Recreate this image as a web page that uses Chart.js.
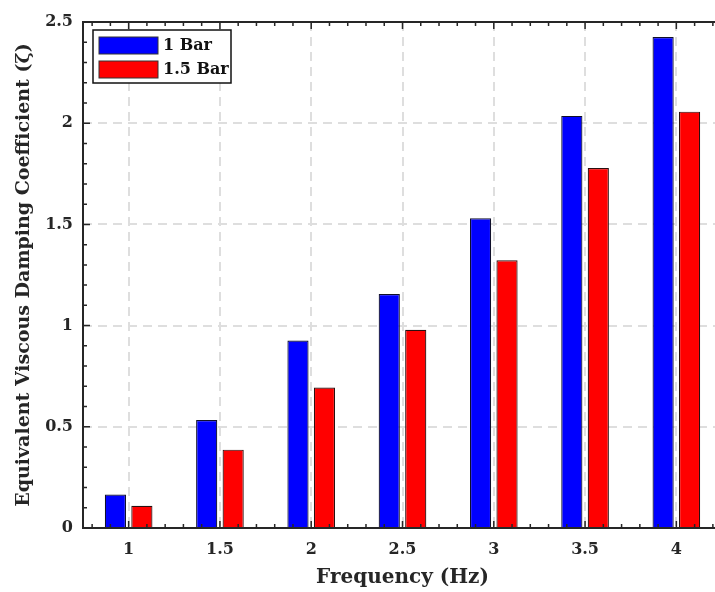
<!DOCTYPE html>
<html>
<head>
<meta charset="utf-8">
<script src="https://cdn.jsdelivr.net/npm/chart.js@4.4.1/dist/chart.umd.min.js"></script>
<style>
  html, body { margin: 0; padding: 0; background: #fff; overflow: hidden; }
  #wrap { width: 730px; height: 592px; }
</style>
</head>
<body>
<div id="wrap"><canvas id="grafico" width="730" height="592"></canvas></div>
<script>
// frecuencias (Hz) y coeficiente de amortiguamiento
const freqLabels = ['1', '1.5', '2', '2.5', '3', '3.5', '4'];
const bar1 = [0.165, 0.533, 0.926, 1.156, 1.53, 2.036, 2.426];
const bar15 = [0.11, 0.387, 0.694, 0.979, 1.323, 1.779, 2.057];
const yTicks = [0, 0.5, 1, 1.5, 2, 2.5];

const serif = "'DejaVu Serif', serif";
const axisColor = '#262626';

// marco, ticks menores y leyenda dentro del area
const marco = {
  id: 'marco',
  afterDatasetsDraw(chart) {
    const ctx = chart.ctx;
    const a = chart.chartArea;
    const xs = chart.scales.x, ys = chart.scales.y;
    ctx.save();
    ctx.strokeStyle = axisColor;
    ctx.lineWidth = 2;
    ctx.strokeRect(a.left, a.top, a.right - a.left, a.bottom - a.top);

    ctx.lineWidth = 1.5;
    // y ticks cada 0.1
    for (let v = 0; v <= 2.5001; v += 0.1) {
      const y = ys.getPixelForValue(v);
      const major = Math.abs(v * 2 - Math.round(v * 2)) < 1e-6;
      const len = major ? 7 : 4;
      ctx.beginPath();
      ctx.moveTo(a.left, y); ctx.lineTo(a.left + len, y);
      ctx.moveTo(a.right, y); ctx.lineTo(a.right - len, y);
      ctx.stroke();
    }
    // x ticks: cada categoria = 0.5 Hz, menores cada 0.1 Hz
    const step = xs.getPixelForValue(1) - xs.getPixelForValue(0);
    const x0 = xs.getPixelForValue(0);
    for (let k = -3; k <= 6 * 5 + 3; k++) {
      const x = x0 + k * step / 5;
      if (x < a.left + 1 || x > a.right - 1) continue;
      const len = (k % 5 === 0) ? 7 : 4;
      ctx.beginPath();
      ctx.moveTo(x, a.bottom); ctx.lineTo(x, a.bottom - len);
      ctx.moveTo(x, a.top); ctx.lineTo(x, a.top + len);
      ctx.stroke();
    }

    // leyenda
    const lx = a.left + 10, ly = a.top + 8, lw = 138, lh = 53;
    ctx.fillStyle = '#fff';
    ctx.fillRect(lx, ly, lw, lh);
    ctx.strokeStyle = '#111';
    ctx.lineWidth = 1.5;
    ctx.strokeRect(lx, ly, lw, lh);
    ctx.font = 'bold 16px ' + serif;
    ctx.textBaseline = 'middle';
    chart.data.datasets.forEach((ds, i) => {
      const sy = ly + 7 + i * 24;
      ctx.fillStyle = ds.backgroundColor;
      ctx.fillRect(lx + 6, sy, 59, 17);
      ctx.strokeStyle = '#333';
      ctx.lineWidth = 1;
      ctx.strokeRect(lx + 6, sy, 59, 17);
      ctx.fillStyle = '#111';
      ctx.fillText(ds.label, lx + 70, sy + 9);
    });
    ctx.restore();
  }
};

const grafx = document.getElementById('grafico').getContext('2d');
const grafico = new Chart(grafx, {
  type: 'bar',
  data: {
    labels: freqLabels,
    datasets: [
      { label: '1 Bar', data: bar1, backgroundColor: '#0000ff', borderColor: '#10102a', borderWidth: 1.2 },
      { label: '1.5 Bar', data: bar15, backgroundColor: '#ff0000', borderColor: '#2a1010', borderWidth: 1.2 }
    ]
  },
  options: {
    responsive: false,
    animation: false,
    layout: { padding: { left: 0, top: 22, right: 8, bottom: 0 } },
    datasets: { bar: { categoryPercentage: 0.58, barPercentage: 0.8 } },
    plugins: { legend: { display: false }, tooltip: { enabled: false } },
    scales: {
      x: {
        offset: true,
        grid: { offset: false, color: '#dedede', lineWidth: 2, drawTicks: false },
        border: { display: false, dash: [9, 6] },
        ticks: { color: '#262626', padding: 12, font: { family: serif, size: 16, weight: 'bold' } },
        title: { display: true, text: 'Frequency (Hz)', color: '#262626', padding: { top: 2, bottom: 2 },
                 font: { family: serif, size: 20, weight: 'bold' } },
        afterFit: s => { s.height = 64; }
      },
      y: {
        min: 0, max: 2.5,
        afterBuildTicks: s => { s.ticks = yTicks.map(v => ({ value: v })); },
        grid: { color: '#dedede', lineWidth: 2, drawTicks: false },
        border: { display: false, dash: [9, 6] },
        ticks: { color: '#262626', padding: 10, font: { family: serif, size: 16, weight: 'bold' },
                 callback: v => String(v) },
        title: { display: true, text: 'Equivalent Viscous Damping Coefficient (ζ)', color: '#262626',
                 padding: { top: 13, bottom: 0 }, font: { family: serif, size: 19, weight: 'bold' } },
        afterFit: s => { s.width = 83; }
      }
    }
  },
  plugins: [marco]
});
</script>
</body>
</html>
